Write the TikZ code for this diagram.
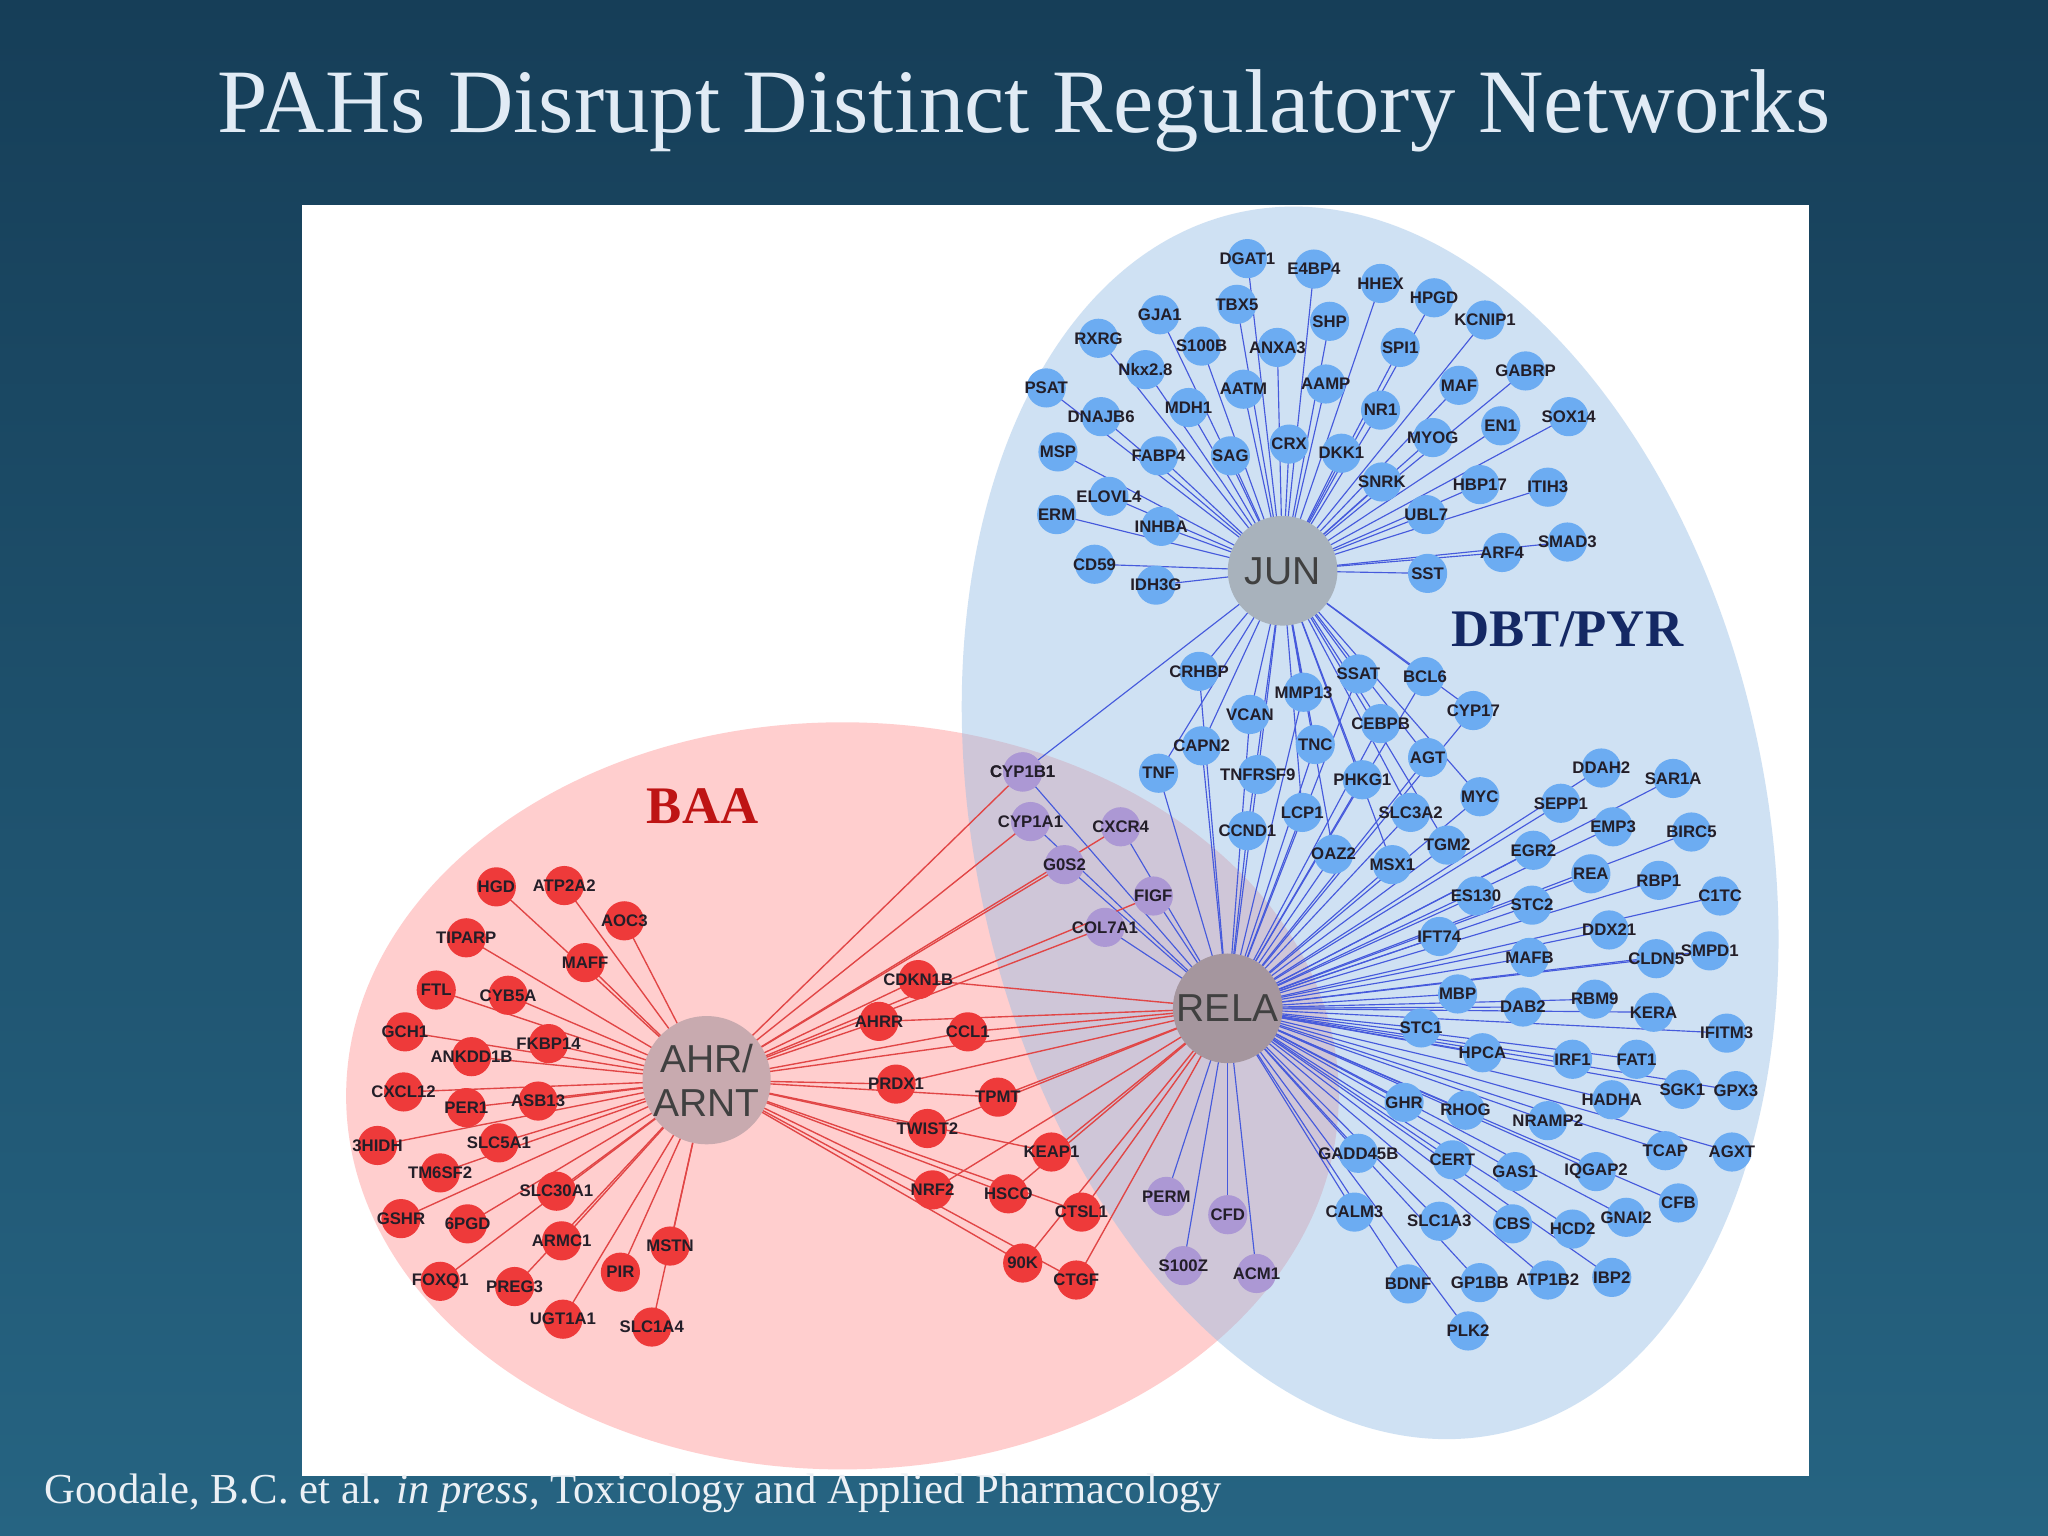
\documentclass[tikz,border=0pt]{standalone}
\usepackage{fontspec}
\setmainfont{Liberation Serif}
\newfontfamily\lsans{Liberation Sans}
\pgfdeclarelayer{back}\pgfdeclarelayer{edges}
\pgfsetlayers{back,edges,main}
\definecolor{bgtop}{RGB}{22,62,88}
\definecolor{bgbot}{RGB}{38,100,130}
\definecolor{nblue}{RGB}{108,172,242}
\definecolor{nred}{RGB}{238,58,58}
\definecolor{npur}{RGB}{172,152,212}
\definecolor{eblue}{RGB}{70,90,220}
\definecolor{ered}{RGB}{225,70,70}
\definecolor{lbltxt}{RGB}{35,30,40}
\definecolor{ellblue}{RGB}{150,190,230}
\definecolor{hjun}{RGB}{168,178,188}
\definecolor{hrela}{RGB}{165,150,158}
\definecolor{hahr}{RGB}{200,170,175}
\definecolor{baared}{RGB}{190,20,20}
\definecolor{dbtnavy}{RGB}{20,40,100}
\definecolor{titlec}{RGB}{225,235,245}
\definecolor{footc}{RGB}{235,240,245}
\tikzset{
 lbl/.style={font=\lsans\bfseries\fontsize{7.3}{8}\selectfont,text=lbltxt,inner sep=0},
 gn/.style={circle,minimum size=0.6cm,inner sep=0,label={[lbl]center:#1}},
 bn/.style={gn=#1,fill=nblue},
 rn/.style={gn=#1,fill=nred},
 pn/.style={gn=#1,fill=npur},
 hub/.style={circle,minimum size=1.68cm,inner sep=0,font=\lsans\fontsize{17}{19}\selectfont,text=black!75,align=center},
 be/.style={draw=eblue,line width=0.5pt},
 re/.style={draw=ered,line width=0.6pt},
}
\begin{document}
\begin{tikzpicture}[x=0.02cm,y={(0,-0.02cm)}]
\useasboundingbox (0,0) rectangle (1568,1176);
\begin{pgfonlayer}{back}
\shade[top color=bgtop,bottom color=bgbot] (0,0) rectangle (1568,1176);
\fill[white] (231,157) rectangle (1385,1130);
\fill[red!55,opacity=0.35] (645,839) ellipse [x radius=380,y radius=286];
\fill[ellblue,opacity=0.45,rotate around={12:(1049,630)}] (1049,630) ellipse [x radius=303,y radius=478];
\end{pgfonlayer}
\coordinate (jun) at (982,437);
\coordinate (rela) at (940,772);
\coordinate (ahr) at (541,827);
% JUN cluster
\foreach \l/\x/\y in {DGAT1/955/198,E4BP4/1006/206,HHEX/1057/217,HPGD/1098/228,KCNIP1/1137/245,TBX5/947/233,GJA1/888/241,SHP/1018/246,RXRG/841/259,S100B/920/265,ANXA3/978/266,SPI1/1072/266,GABRP/1168/284,Nkx2.8/877/283,AATM/952/298,AAMP/1015/294,MAF/1117/295,PSAT/801/297,MDH1/910/312,NR1/1057/314,SOX14/1201/319,DNAJB6/843/319,EN1/1149/326,MYOG/1097/335,CRX/987/340,DKK1/1027/347,MSP/810/346,FABP4/887/349,SAG/942/349,SNRK/1058/369,HBP17/1133/371,ITIH3/1185/373,ELOVL4/849/380,UBL7/1092/394,ERM/809/394,INHBA/889/403,SMAD3/1200/415,ARF4/1150/423,CD59/838/432,SST/1093/439,IDH3G/885/448}{
 \node[bn=\l] (n) at (\x,\y) {};
 \begin{pgfonlayer}{edges}\draw[be] (jun) -- (n.center);\end{pgfonlayer}}
% middle
\foreach \l/\x/\y in {CRHBP/918/514,SSAT/1040/516,BCL6/1091/518,MMP13/998/530,VCAN/957/547,CEBPB/1057/554,CYP17/1128/544,CAPN2/920/571,TNC/1007/570,AGT/1093/580,TNF/887/592,TNFRSF9/963/593,PHKG1/1043/597,LCP1/997/622,SLC3A2/1080/622,MYC/1133/610,CCND1/955/636,OAZ2/1021/654,MSX1/1066/662,TGM2/1108/647}{
 \node[bn=\l] (n) at (\x,\y) {};
 \begin{pgfonlayer}{edges}\draw[be] (jun) -- (n.center);\draw[be] (rela) -- (n.center);\end{pgfonlayer}}
% RELA cluster
\foreach \l/\x/\y in {DDAH2/1226/588,SAR1A/1281/596,SEPP1/1195/615,EMP3/1235/633,BIRC5/1295/637,EGR2/1174/651,REA/1218/669,RBP1/1270/674,C1TC/1317/686,ES130/1130/686,STC2/1173/693,DDX21/1232/712,IFT74/1102/717,MAFB/1171/733,CLDN5/1268/734,SMPD1/1309/728,MBP/1116/761,DAB2/1166/771,RBM9/1221/765,KERA/1266/775,STC1/1088/787,IFITM3/1322/791,HPCA/1135/806,IRF1/1204/811,FAT1/1253/811,SGK1/1288/834,GPX3/1329/835,HADHA/1234/842,GHR/1075/844,RHOG/1122/850,NRAMP2/1185/858,TCAP/1275/881,AGXT/1326/882,GADD45B/1040/883,CERT/1112/888,GAS1/1160/897,IQGAP2/1222/897,CFB/1285/921,GNAI2/1245/932,CALM3/1037/928,SLC1A3/1102/935,CBS/1158/937,HCD2/1204/941,BDNF/1078/983,GP1BB/1133/982,ATP1B2/1185/980,IBP2/1234/978,PLK2/1124/1019}{
 \node[bn=\l] (n) at (\x,\y) {};
 \begin{pgfonlayer}{edges}\draw[be] (rela) -- (n.center);\end{pgfonlayer}}
% purple
\foreach \l/\x/\y in {CYP1B1/783/591,CYP1A1/789/629,CXCR4/858/633,G0S2/815/662,FIGF/883/686,COL7A1/846/710}{
 \node[pn=\l] (n) at (\x,\y) {};
 \begin{pgfonlayer}{edges}\draw[re] (ahr) -- (n.center);\draw[be] (rela) -- (n.center);\end{pgfonlayer}}
\foreach \l/\x/\y in {PERM/893/916,CFD/940/930,S100Z/906/969,ACM1/962/975}{
 \node[pn=\l] (n) at (\x,\y) {};
 \begin{pgfonlayer}{edges}\draw[be] (rela) -- (n.center);\end{pgfonlayer}}
\node[pn=CYP1B1] (cyp) at (783,591) {};
\begin{pgfonlayer}{edges}\draw[be] (jun) -- (cyp.center);\end{pgfonlayer}
% red middle
\foreach \l/\x/\y in {CDKN1B/703/750,AHRR/673/782,CCL1/741/790,PRDX1/686/830,TPMT/764/840,TWIST2/710/864,KEAP1/805/882,NRF2/714/911,HSCO/772/914,CTSL1/828/928,90K/783/967,CTGF/824/980}{
 \node[rn=\l] (n) at (\x,\y) {};
 \begin{pgfonlayer}{edges}\draw[re] (ahr) -- (n.center);\draw[re] (rela) -- (n.center);\end{pgfonlayer}}
% red left
\foreach \l/\x/\y in {HGD/380/679,ATP2A2/432/678,AOC3/478/705,TIPARP/357/718,MAFF/448/737,FTL/334/758,CYB5A/389/762,GCH1/310/790,ANKDD1B/361/809,FKBP14/420/799,CXCL12/309/836,PER1/357/848,ASB13/412/843,3HIDH/289/877,SLC5A1/382/875,TM6SF2/337/898,SLC30A1/426/912,GSHR/307/933,6PGD/358/937,ARMC1/430/950,MSTN/513/954,PIR/475/974,FOXQ1/337/981,PREG3/394/985,UGT1A1/431/1010,SLC1A4/499/1016}{
 \node[rn=\l] (n) at (\x,\y) {};
 \begin{pgfonlayer}{edges}\draw[re] (ahr) -- (n.center);\end{pgfonlayer}}
\begin{pgfonlayer}{edges}\draw[re] (ahr) -- (rela);\end{pgfonlayer}
% hubs
\node[hub,fill=hjun] (JUN) at (jun) {JUN};
\node[hub,fill=hrela] (RELA) at (rela) {RELA};
\node[hub,fill=hahr] (AHR) at (ahr) {AHR/\\ARNT};
% texts
\node[text=baared,font=\bfseries\fontsize{23}{26}\selectfont] (baa) at (538,617) {BAA};
\node[text=dbtnavy,font=\bfseries\fontsize{23}{26}\selectfont] (dbt) at (1200,482) {DBT/PYR};
\node[text=titlec,font=\fontsize{39.5}{44}\selectfont] (title) at (784,85) {PAHs Disrupt Distinct Regulatory Networks};
\node[text=footc,font=\fontsize{18.6}{21}\selectfont,anchor=west] (foot) at (28,1143) {Goodale, B.C. et al. \textit{in press}, Toxicology and Applied Pharmacology};
\end{tikzpicture}
\end{document}
